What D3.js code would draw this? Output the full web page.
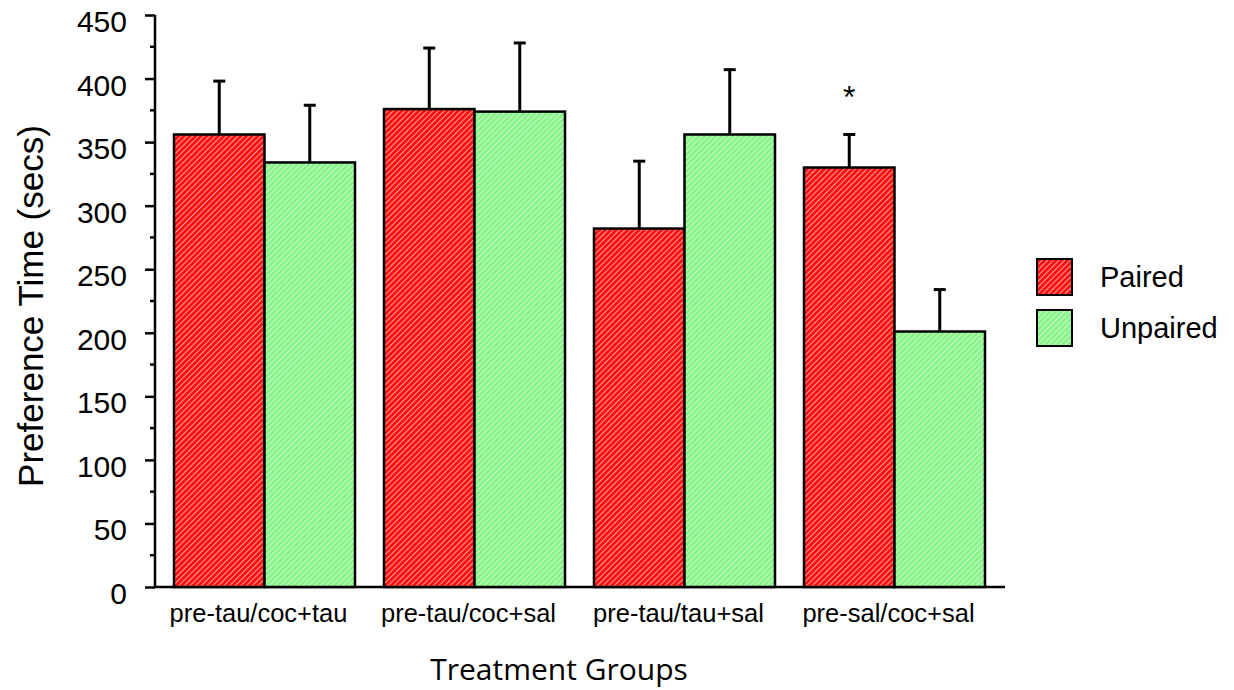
<!DOCTYPE html>
<html>
<head>
<script src="https://d3js.org/d3.v7.min.js"></script>
<style>
  body { margin: 0; background: #fff; }
  text { font-family: "Liberation Sans", Arial, sans-serif; }
</style>
</head>
<body>
<div id="container"></div>
<script>
// data
const groups = ["pre-tau/coc+tau", "pre-tau/coc+sal", "pre-tau/tau+sal", "pre-sal/coc+sal"];
const seriesNames = ["Paired", "Unpaired"];
const paired = [356, 376, 282, 330];
const pairedErr = [42, 48, 53, 26];
const unpaired = [334, 374, 356, 201];
const unpairedErr = [45, 54, 51, 33];
const yTicks = [0, 50, 100, 150, 200, 250, 300, 350, 400, 450];
const stars = ["", "", "", "*"];

const W = 1234, H = 690;
const svg = d3.select("#container").append("svg")
  .attr("width", W).attr("height", H);

// hatched fills
const defs = svg.append("defs");
function hatch(id, color) {
  const p = defs.append("pattern")
    .attr("id", id)
    .attr("patternUnits", "userSpaceOnUse")
    .attr("width", 4).attr("height", 4)
    .attr("patternTransform", "rotate(45)");
  p.append("rect").attr("width", 4).attr("height", 4).attr("fill", color);
  p.append("line").attr("x1", 0).attr("y1", 0).attr("x2", 0).attr("y2", 4)
    .attr("stroke", "#fff").attr("stroke-width", 1.2);
}
hatch("hatchRed", "#ff1010");
hatch("hatchGreen", "#86f486");
const fills = ["url(#hatchRed)", "url(#hatchGreen)"];

const y = d3.scaleLinear().domain([0, 450]).range([587, 15]);
const x = d3.scaleBand().domain(groups).range([159.5, 999.5])
  .paddingInner(29 / 210).paddingOuter(29 / 420);
const xs = d3.scaleBand().domain(seriesNames).range([0, x.bandwidth()]);

// y axis: major ticks with labels, minor ticks between
const yAxis = svg.append("g").attr("transform", "translate(155,0)")
  .call(d3.axisLeft(y).tickValues(yTicks).tickSize(10).tickPadding(18));
yAxis.select(".domain").attr("stroke-width", 2.5).attr("d", "M0," + y(450) + "V" + y(0));
yAxis.selectAll(".tick line").attr("stroke-width", 2.5);
yAxis.selectAll(".tick text")
  .attr("font-size", 30).attr("font-family", "Liberation Sans, Arial, sans-serif")
  .attr("dy", "0.55em")
  .attr("fill", "#000");
svg.append("g").attr("transform", "translate(155,0)")
  .selectAll("line").data(d3.range(25, 450, 50)).join("line")
  .attr("x1", -5).attr("x2", 0)
  .attr("y1", d => y(d)).attr("y2", d => y(d))
  .attr("stroke", "#000").attr("stroke-width", 2.5);

// x axis line
svg.append("line").attr("x1", 154).attr("x2", 1005)
  .attr("y1", y(0)).attr("y2", y(0))
  .attr("stroke", "#000").attr("stroke-width", 2.5);

// bars
const rows = [];
groups.forEach((g, i) => {
  rows.push({ g: g, s: 0, v: paired[i], e: pairedErr[i] });
  rows.push({ g: g, s: 1, v: unpaired[i], e: unpairedErr[i] });
});
const cx = d => x(d.g) + xs(seriesNames[d.s]) + xs.bandwidth() / 2;

const bar = svg.append("g").selectAll("g").data(rows).join("g");
bar.append("line")
  .attr("x1", cx).attr("x2", cx)
  .attr("y1", d => y(d.v)).attr("y2", d => y(d.v + d.e))
  .attr("stroke", "#000").attr("stroke-width", 3);
bar.append("line")
  .attr("x1", d => cx(d) - 6).attr("x2", d => cx(d) + 6)
  .attr("y1", d => y(d.v + d.e)).attr("y2", d => y(d.v + d.e))
  .attr("stroke", "#000").attr("stroke-width", 3);
bar.append("rect")
  .attr("x", d => x(d.g) + xs(seriesNames[d.s]))
  .attr("y", d => y(d.v))
  .attr("width", xs.bandwidth())
  .attr("height", d => y(0) - y(d.v))
  .attr("fill", d => fills[d.s])
  .attr("stroke", "#000").attr("stroke-width", 2.5);

// significance star
svg.append("g").selectAll("text").data(groups).join("text")
  .attr("x", d => x(d) + xs.bandwidth() / 2)
  .attr("y", (d, i) => y(paired[i] + pairedErr[i]) - 26)
  .attr("text-anchor", "middle")
  .attr("font-size", 32)
  .text((d, i) => stars[i]);

// category labels
svg.append("g").selectAll("text").data(groups).join("text")
  .attr("x", d => x(d) + x.bandwidth() / 2 - 6)
  .attr("y", 622)
  .attr("text-anchor", "middle")
  .attr("font-size", 25.5)
  .text(d => d);

// axis titles
svg.append("text")
  .attr("transform", "translate(43,306) rotate(-90)")
  .attr("text-anchor", "middle")
  .attr("font-size", 35)
  .text("Preference Time (secs)");
svg.append("text")
  .attr("x", 559).attr("y", 680)
  .attr("text-anchor", "middle")
  .attr("font-size", 30)
  .style("font-family", "Open Sans, sans-serif")
  .text("Treatment Groups");

// legend
const leg = svg.append("g").selectAll("g").data(seriesNames).join("g")
  .attr("transform", (d, i) => "translate(1037," + (259 + i * 51) + ")");
leg.append("rect").attr("width", 35).attr("height", 36)
  .attr("fill", (d, i) => fills[i]).attr("stroke", "#000").attr("stroke-width", 2);
leg.append("text").attr("x", 63).attr("y", 28)
  .attr("font-size", 29)
  .text(d => d);
</script>
</body>
</html>
